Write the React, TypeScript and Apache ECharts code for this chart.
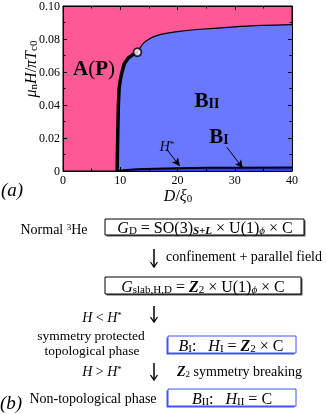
import React, { useEffect, useRef } from "react";
import * as echarts from "echarts";

// ---- data ----
const xTicks = [0, 10, 20, 30, 40];
const yTicks = [0, 0.02, 0.04, 0.06, 0.08, 0.1];
// thick first-order boundary A(P) | B (D/xi0, muH/piTc0)
const boundaryD = [9.45, 9.5, 9.55, 9.67, 9.8, 10.0, 10.25, 10.7, 11.4, 12.2, 13.0];
const boundaryH = [0, 0.01, 0.02, 0.04, 0.05, 0.055, 0.0592, 0.065, 0.0685, 0.0705, 0.072];
// thin second-order boundary beyond the tricritical point
const upperD = [13.0, 14.0, 15.2, 16.5, 18.0, 20.0, 24.0, 30.0, 35.0, 40.0];
const upperH = [0.072, 0.0772, 0.0803, 0.0822, 0.0834, 0.0845, 0.0859, 0.0874, 0.0882, 0.0887];
// H* line separating B_I (below) and B_II
const lowerD = [9.6, 11, 13, 16, 20, 25, 30, 40];
const lowerH = [0, 0.0006, 0.001, 0.0014, 0.0017, 0.0019, 0.002, 0.0021];
const tricritical = [13.0, 0.072];
// annotation arrows [fromD, fromH, toD, toH]
const hStarArrow = [18.2, 0.0127, 20.4, 0.003];
const bIArrow = [28.6, 0.0145, 31.4, 0.0018];

const SERIF = "'Liberation Serif', 'DejaVu Serif', serif";
const PINK = "#ff5896";
const BLUE = "#6a78ff";
const DARKBLUE = "#2e3ef0";
const BOXBLUE = "#3a55ff";

function richSet(fs: number) {
  const sub = Math.round(fs * 0.66);
  return {
    n: { fontSize: fs, fontFamily: SERIF, fill: "#000" },
    i: { fontSize: fs, fontFamily: SERIF, fontStyle: "italic", fill: "#000" },
    b: { fontSize: fs, fontFamily: SERIF, fontWeight: "bold", fill: "#000" },
    bi: { fontSize: fs, fontFamily: SERIF, fontStyle: "italic", fontWeight: "bold", fill: "#000" },
    s: { fontSize: sub, fontFamily: SERIF, verticalAlign: "bottom", fill: "#000" },
    sb: { fontSize: sub, fontFamily: SERIF, fontWeight: "bold", verticalAlign: "bottom", fill: "#000" },
    si: { fontSize: sub, fontFamily: SERIF, fontStyle: "italic", verticalAlign: "bottom", fill: "#000" },
    sbi: { fontSize: sub, fontFamily: SERIF, fontStyle: "italic", fontWeight: "bold", verticalAlign: "bottom", fill: "#000" },
    sup: { fontSize: sub, fontFamily: SERIF, verticalAlign: "top", fill: "#000" },
  };
}

function txt(x: number, y: number, text: string, fs: number, align = "center", extra: any = {}, fontStyle = "normal") {
  return {
    type: "text",
    x,
    y,
    z: 100,
    ...extra,
    style: {
      text,
      fontSize: fs,
      fontFamily: SERIF,
      fontStyle,
      fill: "#000",
      align,
      verticalAlign: "middle",
      rich: richSet(fs),
    },
  };
}

function box(x: number, y: number, w: number, h: number, blue: boolean) {
  const c = blue ? BOXBLUE : "#000";
  return [
    {
      type: "rect",
      z: 90,
      shape: { x: blue ? x - 1.5 : x + 1.5, y: y + 1.5, width: w, height: h },
      style: { fill: blue ? BOXBLUE : "#555", stroke: "none" },
    },
    {
      type: "rect",
      z: 91,
      shape: { x, y, width: w, height: h },
      style: { fill: "#fff", stroke: c, lineWidth: 1 },
    },
  ];
}

function arrow(x: number, y1: number, y2: number) {
  return [
    { type: "line", z: 90, shape: { x1: x, y1, x2: x, y2: y2 - 1 }, style: { stroke: "#000", lineWidth: 1.5 } },
    {
      type: "polyline",
      z: 90,
      shape: { points: [[x - 3.5, y2 - 5], [x, y2], [x + 3.5, y2 - 5]] },
      style: { stroke: "#000", lineWidth: 1.3, fill: "none" },
    },
  ];
}

export default function App() {
  const ref = useRef<HTMLDivElement>(null);
  useEffect(() => {
    if (!ref.current) return;
    const chart = echarts.init(ref.current, undefined, { renderer: "svg" });
    const zip = (a: number[], b: number[]) => a.map((v, i) => [v, b[i]]);
    const blueArea = zip(boundaryD, boundaryH).concat(zip(upperD, upperH).slice(1));

    const axisCommon = {
      type: "value",
      z: 10,
      axisLine: { show: true, onZero: false, lineStyle: { color: "#000", width: 1 } },
      splitLine: { show: false },
      minorTick: { show: true, splitNumber: 2, length: 2.5, lineStyle: { color: "#000" } },
      axisTick: { show: true, inside: true, length: 4, lineStyle: { color: "#000" } },
    };

    const graphic: any[] = [
      // panel (a) annotations
      txt(12, 189, "(a)", 19, "center", {}, "italic"),
      txt(94, 68, "{b|A}{n|(}{b|P}{n|)}", 21, "center"),
      txt(207, 100, "{b|B}{sb|II}", 21, "center"),
      txt(219, 136, "{b|B}{sb|I}", 21, "center"),
      txt(167, 146, "{i|H}{sup|*}", 14, "center"),
      txt(178, 195, "{i|D}{n|/}{i|ξ}{s|0}", 16, "center"),
      txt(30, 69, "{i|μ}{s|n}{i|H}{n|/}{i|πT}{s|c0}", 16, "center", { rotation: Math.PI / 2 }),
      // panel (b)
      ...box(105, 219, 199, 16, false),
      txt(205, 227.5, "{i|G}{s|D}{n| = SO(3)}{sbi|S+L}{n| × U(1)}{si|ϕ}{n| × C}", 16, "center"),
      txt(54, 229, "{n|Normal }{sup|3}{n|He}", 14, "center"),
      ...arrow(154, 249, 267),
      txt(166, 256, "confinement + parallel field", 14, "left"),
      ...box(105, 277, 196, 17, false),
      txt(203, 286, "{i|G}{s|slab,H,D}{n| = }{bi|Z}{s|2}{n| × U(1)}{si|ϕ}{n| × C}", 16, "center"),
      txt(102, 317, "{i|H}{n| < }{i|H}{sup|*}", 14, "center"),
      ...arrow(154, 306, 322),
      txt(91, 335, "symmetry protected", 13.5, "center"),
      txt(92, 350, "topological phase", 13.5, "center"),
      ...box(168, 336, 128, 17, true),
      txt(231, 345, "{i|B}{s|I}{n|:   }{i|H}{s|I}{n| = }{bi|Z}{s|2}{n| × C}", 16, "center"),
      txt(102, 371, "{i|H}{n| > }{i|H}{sup|*}", 14, "center"),
      ...arrow(154, 363, 380),
      txt(177, 371, "{bi|Z}{s|2}{n| symmetry breaking}", 14, "left"),
      txt(11, 402, "(b)", 19, "center", {}, "italic"),
      txt(93, 398, "Non-topological phase", 14, "center"),
      ...box(168, 389, 128, 17, true),
      txt(232, 398, "{i|B}{s|II}{n|:   }{i|H}{s|II}{n| = C}", 16, "center"),
    ];

    chart.setOption({
      animation: false,
      grid: {
        left: 63,
        top: 6,
        width: 229,
        height: 165,
        show: true,
        backgroundColor: PINK,
        borderColor: "#000",
        borderWidth: 1,
      },
      xAxis: [
        {
          ...axisCommon,
          position: "bottom",
          min: 0,
          max: 40,
          interval: 10,
          axisLabel: {
            color: "#000",
            fontFamily: SERIF,
            fontSize: 12,
            margin: 3,
            formatter: (v: number) => (xTicks.includes(v) ? String(v) : ""),
          },
        },
        {
          ...axisCommon,
          position: "top",
          min: 0,
          max: 40,
          interval: 10,
          axisLabel: { show: false },
        },
      ],
      yAxis: [
        {
          ...axisCommon,
          position: "left",
          min: 0,
          max: 0.1,
          interval: 0.02,
          axisLabel: {
            color: "#000",
            fontFamily: SERIF,
            fontSize: 12,
            margin: 3,
            formatter: (v: number) => {
              const t = yTicks.find((k) => Math.abs(k - v) < 1e-9);
              if (t === undefined) return "";
              return t === 0 ? "0" : t.toFixed(2);
            },
          },
        },
        {
          ...axisCommon,
          position: "right",
          min: 0,
          max: 0.1,
          interval: 0.02,
          axisLabel: { show: false },
        },
      ],
      series: [
        {
          type: "line",
          data: blueArea,
          symbol: "none",
          lineStyle: { width: 0, opacity: 0 },
          areaStyle: { color: BLUE, opacity: 1 },
          z: 2,
        },
        {
          type: "line",
          data: zip(lowerD, lowerH),
          symbol: "none",
          lineStyle: { color: "#000", width: 2 },
          areaStyle: { color: DARKBLUE, opacity: 1 },
          z: 3,
        },
        {
          type: "line",
          data: zip(upperD, upperH),
          symbol: "none",
          smooth: 0.3,
          lineStyle: { color: "#000", width: 1.2 },
          z: 4,
        },
        {
          type: "line",
          data: zip(boundaryD, boundaryH),
          symbol: "none",
          lineStyle: { color: "#000", width: 3.5 },
          z: 5,
        },
        {
          type: "scatter",
          data: [tricritical],
          symbol: "circle",
          symbolSize: 8,
          itemStyle: { color: "#fff", borderColor: "#000", borderWidth: 1.8 },
          z: 6,
          markLine: {
            silent: true,
            symbol: ["none", "arrow"],
            symbolSize: [6, 8],
            label: { show: false },
            lineStyle: { color: "#000", width: 1, type: "solid" },
            data: [
              [{ coord: [hStarArrow[0], hStarArrow[1]] }, { coord: [hStarArrow[2], hStarArrow[3]] }],
              [{ coord: [bIArrow[0], bIArrow[1]] }, { coord: [bIArrow[2], bIArrow[3]] }],
            ],
          },
        },
      ],
      graphic,
    });
    return () => chart.dispose();
  }, []);
  return <div ref={ref} style={{ position: "fixed", left: 0, top: 0, width: 327, height: 414 }} />;
}
